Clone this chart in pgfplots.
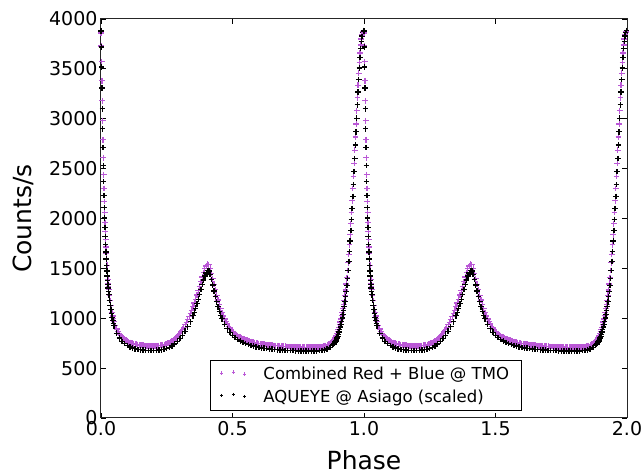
\documentclass[border=0pt]{standalone}
\usepackage{pgfplots}
\pgfplotsset{compat=1.18}
\usepackage{pgfplotstable}
\usepackage{fontspec}
\setmainfont{DejaVu Sans}
\usetikzlibrary{calc}
\definecolor{tmo}{RGB}{186,88,214}

% AQUEYE @ Asiago (scaled), one rotation
\pgfplotstableread{
p c
0.00000 3880
0.00125 3720
0.00250 3520
0.00375 3310
0.00500 3100
0.00625 2900
0.00750 2710
0.00875 2530
0.01000 2370
0.01125 2230
0.01250 2110
0.01375 2005
0.01500 1910
0.01625 1820
0.01750 1740
0.01875 1665
0.02000 1595
0.02125 1530
0.02250 1475
0.02375 1425
0.02500 1380
0.02625 1340
0.02750 1302
0.02875 1268
0.03000 1236
0.0325 1180
0.0350 1130
0.0375 1085
0.0400 1045
0.0425 1010
0.0450 978
0.0475 950
0.0500 925
0.06 850
0.07 800
0.08 768
0.09 745
0.10 728
0.11 712
0.12 702
0.13 694
0.14 688
0.15 684
0.16 681
0.17 679
0.18 678
0.19 677
0.20 678
0.21 679
0.22 681
0.23 684
0.24 689
0.25 696
0.26 706
0.27 720
0.28 740
0.29 765
0.30 795
0.31 830
0.32 870
0.33 915
0.34 965
0.35 1025
0.355 1060
0.360 1100
0.365 1145
0.370 1190
0.375 1240
0.380 1290
0.385 1340
0.390 1385
0.395 1425
0.400 1455
0.405 1478
0.410 1475
0.415 1440
0.420 1390
0.425 1335
0.430 1275
0.435 1220
0.440 1165
0.445 1115
0.450 1070
0.455 1030
0.460 995
0.47 940
0.48 895
0.49 860
0.50 830
0.51 806
0.52 786
0.53 770
0.54 757
0.55 745
0.56 735
0.57 727
0.58 720
0.59 714
0.60 708
0.61 703
0.62 699
0.63 695
0.64 692
0.65 689
0.66 686
0.67 684
0.68 682
0.69 680
0.70 678
0.71 677
0.72 676
0.73 675
0.74 674
0.75 673
0.76 672
0.77 672
0.78 671
0.79 671
0.80 671
0.81 672
0.82 673
0.83 675
0.84 678
0.85 683
0.86 692
0.87 707
0.88 728
0.8825 735
0.885 742
0.8875 750
0.89 760
0.8925 772
0.895 786
0.8975 802
0.90 820
0.9025 840
0.905 862
0.9075 886
0.91 912
0.9125 940
0.915 970
0.9175 1002
0.92 1036
0.9225 1075
0.925 1118
0.9275 1165
0.93 1215
0.9325 1270
0.935 1330
0.9375 1400
0.94 1480
0.9425 1570
0.945 1670
0.9475 1775
0.95 1880
0.9525 1990
0.955 2100
0.9575 2220
0.96 2340
0.9625 2470
0.965 2600
0.9675 2735
0.97 2870
0.9725 3005
0.975 3140
0.9775 3270
0.98 3395
0.9825 3510
0.985 3615
0.9875 3705
0.99 3775
0.9925 3830
0.995 3865
0.9975 3885
}\blk

% Combined Red + Blue @ TMO, one rotation
\pgfplotstableread{
p c
0.00000 3860
0.00125 3730
0.00250 3570
0.00375 3380
0.00500 3180
0.00625 2980
0.00750 2790
0.00875 2610
0.01000 2440
0.01125 2300
0.01250 2170
0.01375 2060
0.01500 1960
0.01625 1870
0.01750 1790
0.01875 1715
0.02000 1650
0.02125 1588
0.02250 1530
0.02375 1478
0.02500 1430
0.02625 1388
0.02750 1350
0.02875 1316
0.03000 1285
0.0325 1225
0.0350 1175
0.0375 1130
0.0400 1090
0.0425 1055
0.0450 1022
0.0475 995
0.0500 968
0.055 925
0.060 892
0.065 866
0.070 845
0.075 826
0.080 812
0.085 798
0.090 788
0.095 778
0.100 771
0.105 764
0.110 757
0.115 752
0.120 748
0.125 745
0.130 741
0.135 738
0.140 736
0.145 733
0.150 731
0.155 729
0.160 728
0.165 727
0.170 725
0.175 724
0.180 724
0.185 723
0.190 723
0.195 723
0.200 723
0.205 724
0.210 724
0.215 725
0.220 727
0.225 728
0.230 730
0.235 733
0.240 736
0.245 740
0.250 744
0.255 749
0.260 755
0.265 762
0.270 770
0.275 780
0.280 791
0.285 803
0.290 817
0.295 833
0.300 850
0.305 869
0.310 889
0.315 911
0.320 935
0.325 960
0.330 987
0.335 1016
0.340 1047
0.345 1080
0.350 1115
0.355 1152
0.360 1191
0.365 1233
0.370 1277
0.375 1322
0.380 1368
0.385 1414
0.390 1457
0.395 1495
0.400 1523
0.405 1540
0.410 1535
0.415 1500
0.420 1450
0.425 1395
0.430 1340
0.435 1285
0.440 1232
0.445 1182
0.450 1136
0.455 1094
0.460 1056
0.465 1022
0.470 992
0.475 965
0.480 942
0.485 921
0.490 902
0.495 886
0.500 871
0.505 858
0.510 846
0.515 835
0.520 826
0.525 817
0.530 809
0.535 802
0.540 796
0.545 790
0.550 784
0.555 779
0.560 775
0.565 770
0.570 766
0.575 762
0.580 759
0.585 756
0.590 753
0.595 750
0.600 747
0.605 745
0.610 743
0.615 741
0.620 739
0.625 737
0.630 735
0.635 734
0.640 732
0.645 730
0.650 729
0.655 727
0.660 726
0.665 725
0.670 724
0.675 723
0.680 722
0.685 721
0.690 720
0.695 719
0.700 718
0.705 717
0.710 717
0.715 716
0.720 715
0.725 715
0.730 714
0.735 714
0.740 713
0.745 713
0.750 712
0.755 712
0.760 711
0.765 711
0.770 710
0.775 710
0.780 710
0.785 710
0.790 710
0.795 710
0.800 710
0.805 711
0.810 711
0.815 712
0.820 712
0.825 713
0.830 714
0.835 715
0.840 717
0.845 719
0.850 722
0.855 726
0.860 731
0.865 738
0.870 747
0.875 757
0.880 768
0.8825 775
0.885 783
0.8875 792
0.89 803
0.8925 816
0.895 831
0.8975 848
0.90 867
0.9025 888
0.905 911
0.9075 936
0.91 963
0.9125 992
0.915 1024
0.9175 1058
0.92 1095
0.9225 1136
0.925 1181
0.9275 1230
0.93 1284
0.9325 1343
0.935 1407
0.9375 1478
0.94 1556
0.9425 1642
0.945 1736
0.9475 1838
0.95 1947
0.9525 2060
0.955 2178
0.9575 2300
0.96 2425
0.9625 2553
0.965 2684
0.9675 2816
0.97 2948
0.9725 3080
0.975 3210
0.9775 3335
0.98 3455
0.9825 3565
0.985 3660
0.9875 3740
0.99 3800
0.9925 3840
0.995 3862
0.9975 3870
}\tmo

\begin{document}
\begin{tikzpicture}
\begin{axis}[
  name=ax,
  scale only axis,
  width=526pt, height=399pt,
  xmin=0, xmax=2, ymin=0, ymax=4000,
  xtick={0,0.5,1,1.5,2},
  ytick={0,500,...,4000},
  xticklabel style={/pgf/number format/.cd, fixed, fixed zerofill, precision=1},
  yticklabel style={/pgf/number format/.cd, set thousands separator={}},
  /pgf/number format/assume math mode=true,
  tick label style={font=\fontsize{19}{22}\selectfont, text=black},
  tick align=inside,
  xtick pos=both, ytick pos=both,
  major tick length=5pt,
  every tick/.style={black, line width=0.8pt},
  axis line style={black!85, line width=1pt},
  xlabel={Phase}, ylabel={Counts/s},
  label style={font=\fontsize{25}{29}\selectfont},
  xlabel style={at={(axis description cs:0.5,-0.1303)}, anchor=base, inner sep=0pt},
  ylabel style={at={(axis description cs:-0.1312,0.5)}, anchor=base, inner sep=0pt},
  legend style={at={(axis description cs:0.207,0.0175)}, anchor=south west,
    draw=black, line width=0.8pt, fill=white,
    font=\fontsize{16.5}{19}\selectfont,
    inner xsep=10pt, inner ysep=5pt, row sep=4.5pt, column sep=15pt,
    cells={anchor=west}},
  legend image code/.code={
    \draw[#1, mark size=1.6pt, line width=0.8pt] plot coordinates {(0pt,1pt) (11.5pt,2pt) (23pt,0pt)};
  },
]
\addplot[only marks, mark=+, color=tmo, mark size=2.9pt, line width=1.2pt] table[x=p, y=c] {\tmo};
\addlegendentry{Combined Red + Blue @ TMO}
\addplot[only marks, mark=+, color=black, mark size=2.8pt, line width=1.4pt] table[x=p, y=c] {\blk};
\addlegendentry{AQUEYE @ Asiago (scaled)}
\addplot[forget plot, only marks, mark=+, color=tmo, mark size=2.9pt, line width=1.2pt] table[x expr=\thisrow{p}+1, y=c] {\tmo};
\addplot[forget plot, only marks, mark=+, color=black, mark size=2.8pt, line width=1.4pt] table[x expr=\thisrow{p}+1, y=c] {\blk};
\end{axis}
\pgfresetboundingbox
\path[use as bounding box] ($(ax.south west)+(-101pt,-57pt)$) rectangle ($(ax.north east)+(17pt,19pt)$);
\end{tikzpicture}
\end{document}
